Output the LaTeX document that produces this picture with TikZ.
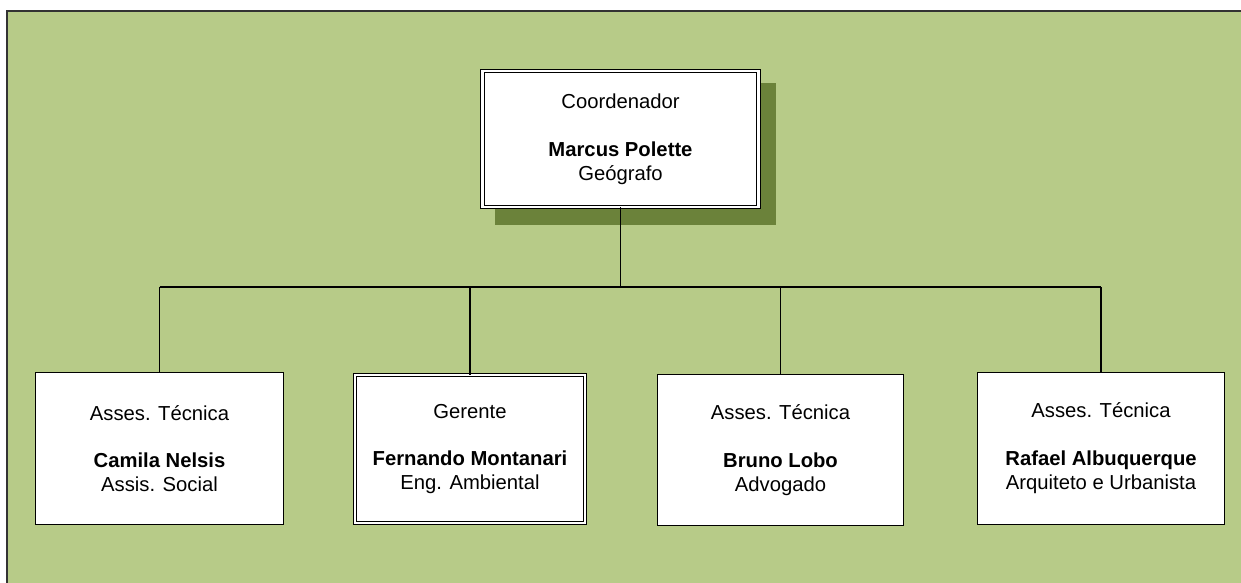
\documentclass[tikz,border=0pt]{standalone}
\usepackage{fontspec}
\setmainfont{Liberation Sans}
\usepackage{tikz}

\definecolor{bggreen}{RGB}{183,203,136}
\definecolor{shadowgreen}{RGB}{107,130,58}

\begin{document}
\begin{tikzpicture}[x=0.025cm,y=-0.025cm,
	post/.style={draw,line width=0.7pt,fill=white,inner sep=0pt,align=center,
		font=\fontsize{14.4}{17}\selectfont},
	twoline/.style={post,double,line width=0.6pt,double distance=1.8pt}]
	\useasboundingbox (0,0) rectangle (1241,583);

	\fill [bggreen] (7,11) rectangle (1241,583);
	\draw [line width=1pt,black!80] (7,583) -- (7,11) -- (1241,11);

	\fill [shadowgreen] (495,83) rectangle (776,225);
	\node [twoline,minimum width=6.9cm,minimum height=3.4cm] (boss) at (620.5,139) {Coordenador\\[17pt]\textbf{Marcus Polette}\\Geógrafo};

	\node [post,minimum width=6.175cm,minimum height=3.775cm] (a1) at (159.5,448.5) {Asses. Técnica\\[17pt]\textbf{Camila Nelsis}\\Assis. Social};
	\node [twoline,minimum width=5.75cm,minimum height=3.7cm] (a2) at (470,449) {Gerente\\[17pt]\textbf{Fernando Montanari}\\Eng. Ambiental};
	\node [post,minimum width=6.125cm,minimum height=3.775cm] (a3) at (780.5,450) {Asses. Técnica\\[17pt]\textbf{Bruno Lobo}\\Advogado};
	\node [post,minimum width=6.15cm,minimum height=3.775cm] (a4) at (1101,448.5) {Asses. Técnica\\[17pt]\textbf{Rafael Albuquerque}\\Arquiteto e Urbanista};

	\coordinate (bus) at (620.5,287);
	\draw [line width=0.8pt] (boss.south) -- (boss.south |- bus);
	\draw [line width=0.8pt] (a1.north |- bus) -- (a4.north |- bus);
	\foreach \n in {a1,a2,a3,a4}
		\draw [line width=0.8pt] (\n.north) -- (\n.north |- bus);
\end{tikzpicture}
\end{document}
